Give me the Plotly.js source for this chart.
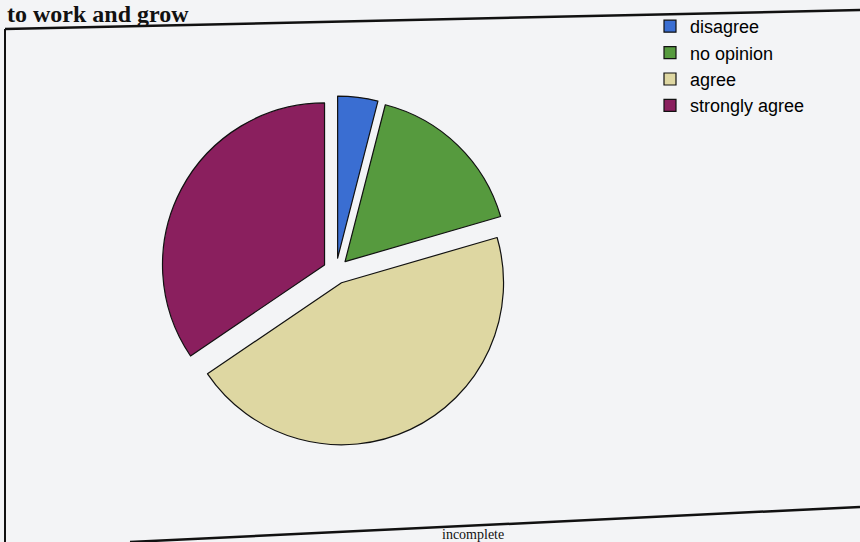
<!DOCTYPE html>
<html>
<head>
<meta charset="utf-8">
<script src="https://cdn.plot.ly/plotly-3.0.1.min.js"></script>
<style>html,body{margin:0;padding:0;background:#f3f4f6;}</style>
</head>
<body>
<div id="chart" style="width:860px;height:542px;"></div>
<script>
const categories = ["disagree", "no opinion", "agree", "strongly agree"];
const percents = [4, 16.5, 45, 34.5];
const sliceColors = ["#3a6ed2", "#569a3e", "#ded7a2", "#8a1f5e"];
const pageTitle = "to work and grow";
const footerText = "incomplete";

const W = 860, H = 542;
const px = x => x / W;
const py = y => 1 - y / H;

const half = 175;
const cx = 336, cy = 271;

const trace = {
  type: "pie",
  labels: categories,
  values: percents,
  sort: false,
  direction: "clockwise",
  rotation: 0,
  pull: [0.08, 0.08, 0.08, 0.08],
  textinfo: "none",
  hoverinfo: "label+percent",
  marker: { colors: sliceColors, line: { color: "#111", width: 1.2 } },
  domain: { x: [px(cx - half), px(cx + half)], y: [py(cy + half), py(cy - half)] }
};

const layout = {
  width: W, height: H,
  margin: { l: 0, r: 0, t: 0, b: 0 },
  paper_bgcolor: "#f3f4f6",
  showlegend: true,
  legend: {
    x: px(650), y: py(8), xanchor: "left", yanchor: "top",
    bgcolor: "rgba(0,0,0,0)",
    font: { family: "Liberation Sans, Arial, sans-serif", size: 18, color: "#000" },
    tracegroupgap: 0, itemwidth: 30
  },
  annotations: [
    { text: "<b>" + pageTitle + "</b>", xref: "paper", yref: "paper", x: px(6), y: 1,
      xanchor: "left", yanchor: "top", showarrow: false, borderpad: 0,
      font: { family: "Liberation Serif, Times New Roman, serif", size: 24, color: "#111" } },
    { text: footerText, xref: "paper", yref: "paper", x: px(440), y: py(534),
      xanchor: "left", yanchor: "middle", showarrow: false,
      font: { family: "Liberation Serif, Times New Roman, serif", size: 14, color: "#111" } }
  ],
  shapes: [
    { type: "line", xref: "paper", yref: "paper", x0: px(5), y0: py(29), x1: px(860), y1: py(10),
      line: { color: "#111", width: 2.5 } },
    { type: "line", xref: "paper", yref: "paper", x0: px(5), y0: py(29), x1: px(5), y1: py(542),
      line: { color: "#111", width: 2 } },
    { type: "line", xref: "paper", yref: "paper", x0: px(130), y0: py(542), x1: px(860), y1: py(507),
      line: { color: "#111", width: 2.5 } }
  ]
};

Plotly.newPlot("chart", [trace], layout, { displayModeBar: false, staticPlot: true });
</script>
</body>
</html>
